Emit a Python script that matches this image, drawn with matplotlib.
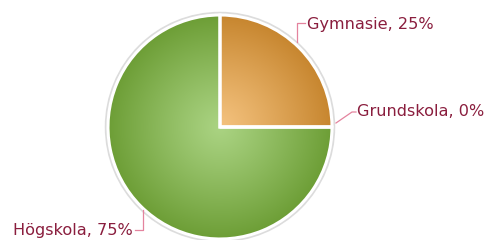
import numpy as np
import matplotlib
matplotlib.use("Agg")
import matplotlib.pyplot as plt
from matplotlib.colors import LinearSegmentedColormap
from matplotlib.patches import Circle

categories = ["Gymnasie", "Grundskola", "Högskola"]
values = [25, 0, 75]
light_colors = ["#F4C27E", "#F4C27E", "#AAD382"]
dark_colors = ["#C7862F", "#C7862F", "#6D9E36"]

W, H = 486, 240
fig = plt.figure(figsize=(W / 100, H / 100), dpi=100)
ax = fig.add_axes([0, 0, 1, 1])
ax.set_xlim(0, W)
ax.set_ylim(0, H)
ax.set_aspect("equal")
ax.axis("off")

cx, cy, R = 220, H - 127, 112

# outer light border
ax.add_patch(Circle((cx, cy), R + 1.5, facecolor="none", edgecolor="#DCDCDC", lw=2.5, zorder=1))

wedges, _ = ax.pie(values, center=(cx, cy), radius=R, startangle=90, counterclock=False,
                   wedgeprops=dict(edgecolor="white", linewidth=2.2), frame=False)
ax.set_xlim(0, W)
ax.set_ylim(0, H)
ax.axis("off")

# radial gradient fill clipped to each wedge
yy, xx = np.mgrid[cy - R:cy + R:300j, cx - R:cx + R:300j]
rr = np.clip(np.hypot(xx - cx, yy - cy) / R, 0, 1)
for w, lc, dc in zip(wedges, light_colors, dark_colors):
    w.set_facecolor("none")
    w.set_zorder(3)
    cmap = LinearSegmentedColormap.from_list("g", [lc, dc])
    im = ax.imshow(rr ** 1.1, cmap=cmap, vmin=0, vmax=1, origin="lower",
                   extent=(cx - R, cx + R, cy - R, cy + R), zorder=2, interpolation="bilinear")
    im.set_clip_path(w)

ax.set_xlim(0, W)
ax.set_ylim(0, H)

line_c = "#E4839E"
text_c = "#8A1E3E"
fs = 11.6

# labels with leader lines, anchored at wedge mid-angles
label_text = [f"{c}, {v}%" for c, v in zip(categories, values)]
for w, txt in zip(wedges, label_text):
    mid = np.deg2rad((w.theta1 + w.theta2) / 2)
    ex, ey = cx + R * np.cos(mid), cy + R * np.sin(mid)
    if abs(w.theta2 - w.theta1) < 1e-6:
        # zero slice: diagonal leader
        x1, y1 = ex + 4, ey + 4
        x2, y2 = ex + 20, ey + 15
        x3 = x2 + 4
        ax.plot([x1, x2, x3], [y1, y2, y2], color=line_c, lw=0.9, zorder=4)
        ax.text(x3 + 1, y2, txt, color=text_c, fontsize=fs, va="center", ha="left")
    elif np.cos(mid) > 0:
        x1, y1 = ex - 2, ey + 6
        y2 = H - 23
        ax.plot([x1, x1, x1 + 8], [y1, y2, y2], color=line_c, lw=0.9, zorder=4)
        ax.text(x1 + 10, y2 - 2, txt, color=text_c, fontsize=fs, va="center", ha="left")
    else:
        x1, y1 = ex + 2, ey - 4
        y2 = H - 230
        ax.plot([x1, x1, x1 - 8], [y1, y2, y2], color=line_c, lw=0.9, zorder=4)
        ax.text(x1 - 10, y2 - 1, txt, color=text_c, fontsize=fs, va="center", ha="right")

fig.savefig("out.png", dpi=100, facecolor="white")
